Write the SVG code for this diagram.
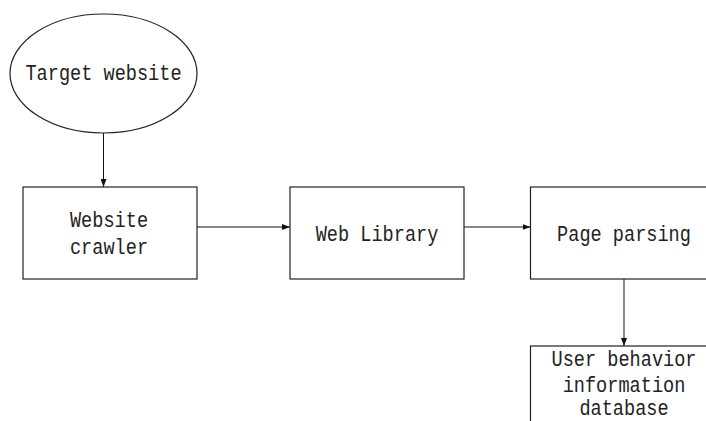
<svg xmlns="http://www.w3.org/2000/svg" width="706" height="421" viewBox="0 0 706 421">
<style>
.node{fill:#fff;stroke:#222;stroke-width:1.2}
.lbl{font-family:"Liberation Mono","DejaVu Sans Mono",monospace;font-size:18.6px;fill:#222;text-anchor:middle}
.edge{stroke:#111;stroke-width:1;fill:none}
</style>
<defs>
<marker id="arr" markerWidth="8" markerHeight="6" refX="8" refY="3" orient="auto" markerUnits="userSpaceOnUse">
<path d="M0,0 L8,3 L0,6 Z" fill="#111"/>
</marker>
</defs>
<rect width="706" height="421" fill="#fff"/>
<g id="connectors">
<line class="edge" x1="103.5" y1="133" x2="103.5" y2="187" marker-end="url(#arr)"/>
<line class="edge" x1="197" y1="227" x2="290" y2="227" marker-end="url(#arr)"/>
<line class="edge" x1="464" y1="227" x2="530.5" y2="227" marker-end="url(#arr)"/>
<line class="edge" x1="624" y1="279" x2="624" y2="346" marker-end="url(#arr)"/>
</g>
<g id="target">
<ellipse class="node" cx="103.5" cy="73.5" rx="93.5" ry="59.5"/>
<text class="lbl" transform="translate(103.5,80) scale(1,1.2)">Target website</text>
</g>
<g id="crawler">
<rect class="node" x="23" y="187" width="174" height="92"/>
<text class="lbl" transform="translate(109,227) scale(1,1.2)">Website</text>
<text class="lbl" transform="translate(109,254) scale(1,1.2)">crawler</text>
</g>
<g id="library">
<rect class="node" x="290" y="187" width="174" height="92"/>
<text class="lbl" transform="translate(377,241) scale(1,1.2)">Web Library</text>
</g>
<g id="parsing">
<rect class="node" x="530.5" y="187" width="180" height="92"/>
<text class="lbl" transform="translate(624,241) scale(1,1.2)">Page parsing</text>
</g>
<g id="database">
<rect class="node" x="530.5" y="346" width="180" height="90"/>
<text class="lbl" transform="translate(624,366) scale(1,1.2)">User behavior</text>
<text class="lbl" transform="translate(624,391.5) scale(1,1.2)">information</text>
<text class="lbl" transform="translate(624,415) scale(1,1.2)">database</text>
</g>
</svg>
